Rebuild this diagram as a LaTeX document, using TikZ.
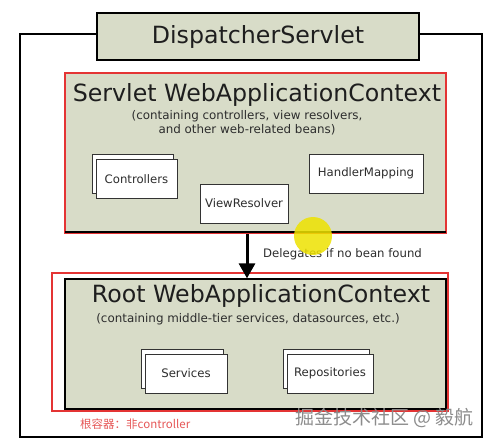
\documentclass[tikz,border=0pt]{standalone}
\usepackage{fontspec}
\setmainfont{DejaVu Sans}
\newfontfamily\cjk{Noto Sans CJK SC}
\usetikzlibrary{arrows.meta,shadows}
\definecolor{ctxgray}{RGB}{216,220,200}
\definecolor{hlred}{RGB}{228,52,52}
\definecolor{notered}{RGB}{230,88,88}
\definecolor{inktext}{RGB}{30,30,30}
\definecolor{boxtext}{RGB}{45,45,45}
\begin{document}
\begin{tikzpicture}[x=1pt,y=-1pt,
  frame/.style={draw=black,line width=1.4pt},
  ctx/.style={draw=black,fill=ctxgray,line width=1.3pt,inner sep=0pt},
  redframe/.style={draw=hlred,line width=2pt,inner sep=0pt},
  title/.style={font=\fontsize{23.7}{28}\selectfont,text=inktext,inner sep=0pt},
  sub/.style={font=\fontsize{11.9}{14}\selectfont,text=boxtext,inner sep=0pt,align=center},
  bean/.style={draw=black!80,fill=white,line width=1pt,minimum height=39pt,inner sep=0pt,
    font=\fontsize{11.7}{14}\selectfont,text=boxtext},
  stackbean/.style={bean,copy shadow={shadow xshift=-4pt,shadow yshift=5pt}},
  lbl/.style={font=\fontsize{11.7}{14}\selectfont,text=boxtext,inner sep=0pt},
  arr/.style={line width=3pt,-{Triangle[width=16pt,length=15pt]}}
]
\useasboundingbox (0,0) rectangle (500,444);
\fill[white] (0,0) rectangle (500,444);
% outer frame
\draw[frame] (20,34) rectangle (482,437);
% DispatcherServlet
\node[ctx,minimum width=322pt,minimum height=47pt,font=\fontsize{23.7}{28}\selectfont,text=inktext] (disp) at (258,36.5) {DispatcherServlet};
% Servlet WebApplicationContext
\node[ctx,draw=hlred,line width=2pt,minimum width=381pt,minimum height=160pt] (servlet) at (255.5,153) {};
\draw[black,line width=1.6pt] ([xshift=1pt,yshift=2pt]servlet.south west) -- ([xshift=-1pt,yshift=2pt]servlet.south east);
\node[title] (stitle) at (257,95) {Servlet WebApplicationContext};
\node[sub] (ssub) at (247,123) {(containing controllers, view resolvers,\\and other web-related beans)};
\node[stackbean,minimum width=81pt] (ctrl) at (136.5,179) {Controllers};
\node[bean,minimum width=88pt] (view) at (244,203.5) {ViewResolver};
\node[bean,minimum width=114pt] (hmap) at (366,173.5) {HandlerMapping};
% Root WebApplicationContext
\node[ctx,minimum width=381pt,minimum height=130pt] (root) at (255.5,344) {};
\node[redframe,minimum width=396pt,minimum height=138pt] (rootred) at (250,342) {};
\node[title] (rtitle) at (261,295.5) {Root WebApplicationContext};
\node[sub] (rsub) at (248,319) {(containing middle-tier services, datasources, etc.)};
\node[stackbean,minimum width=82pt] (serv) at (186,373.5) {Services};
\node[stackbean,minimum width=86pt] (repo) at (330,373.5) {Repositories};
% delegation arrow
\coordinate (ax) at (247,0);
\draw[arr] (servlet.south -| ax) -- (root.north -| ax);
\node[lbl,anchor=west] (deleg) at (263,254) {Delegates if no bean found};
% cursor highlight
\fill[yellow!85!olive,opacity=0.85] (313,236) circle (19pt);
% notes
\node[anchor=west,inner sep=0pt,text=notered,font=\cjk\fontsize{11.5}{14}\selectfont] (note) at (80,424) {根容器：非controller};
\node[anchor=west,inner sep=0pt,text=black!45,font=\cjk\fontsize{19}{22}\selectfont] (wm) at (295,418) {掘金技术社区 @ 毅航};
\end{tikzpicture}
\end{document}
